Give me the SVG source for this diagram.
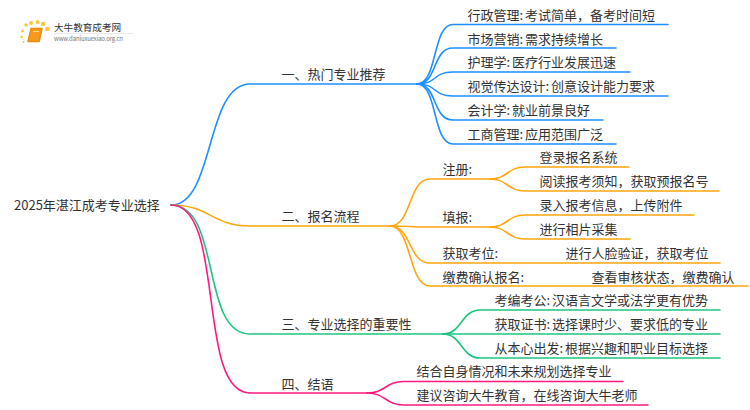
<svg xmlns="http://www.w3.org/2000/svg" width="750" height="410" viewBox="0 0 750 410">
<style>
text{font-family:"Noto Sans CJK SC","Noto Sans",sans-serif;font-size:13px;fill:#333;word-spacing:-1px}
.c{fill:none;stroke-width:1.6;stroke-linecap:round}
.b{stroke:#1e90ff}.o{stroke:#ffa60f}.g{stroke:#1cc67f}.p{stroke:#ff1a80}
.d{fill:#ffc53a}
</style>
<rect width="750" height="410" fill="#fff"/>
<g id="connectors">
<g class="c b">
<path d="M171 205C215 205 205 84 250 84H417"/>
<path d="M417 84C438 84 432 24.5 453 24.5H668"/>
<path d="M417 84C438 84 432 48 453 48H616"/>
<path d="M417 84C438 84 432 72 453 72H630"/>
<path d="M417 84C438 84 432 96 453 96H668"/>
<path d="M417 84C438 84 432 120 453 120H603"/>
<path d="M417 84C438 84 432 144 453 144H616"/>
</g>
<g class="c o">
<path d="M171 205C210 205 212 226 250 226H390"/>
<path d="M390 226C412 226 408 179 430 179H490"/>
<path d="M390 226C412 226 408 227 430 227H490"/>
<path d="M390 226C412 226 408 263 430 263H720"/>
<path d="M390 226C412 226 408 286 430 286H748"/>
<path d="M490 179C508 179 507 167 525 167H629"/>
<path d="M490 179C508 179 507 191 525 191H719"/>
<path d="M490 227C508 227 507 215 525 215H694"/>
<path d="M490 227C508 227 507 239 525 239H630"/>
</g>
<g class="c g">
<path d="M171 205C222 205 200 334 250 334H443"/>
<path d="M443 334C462 334 461 310 480 310H720"/>
<path d="M443 334H720"/>
<path d="M443 334C462 334 461 358 480 358H720"/>
</g>
<g class="c p">
<path d="M171 205C226 205 196 393 250 393H367"/>
<path d="M367 393C386 393 385 381.500 404 381.500H623"/>
<path d="M367 393C386 393 385 405 404 405H648"/>
</g>
</g>
<g id="logo">
<circle class="d" cx="26" cy="25" r="1.800"/><circle class="d" cx="31" cy="23" r="2"/><circle class="d" cx="37.500" cy="22" r="2"/><circle class="d" cx="43" cy="24" r="2.200"/><circle class="d" cx="47.500" cy="29" r="2.300"/><circle class="d" cx="22.500" cy="31" r="1.500"/><circle class="d" cx="21.500" cy="37" r="1.300"/><circle class="d" cx="23.500" cy="42" r="1"/>
<path d="M31 28.500H42L39 41.500H28Z" fill="#f59a1b" stroke="#ec8a12" stroke-width="1.500" stroke-linejoin="round"/><path d="M33 31.500H39" stroke="#ffd98a" stroke-width="1"/>
<path d="M54 33.500H133" stroke="#e4e4e4" stroke-width="0.800"/>
<text x="54" y="30.500" style="font-size:9.600px" fill="#444">大牛教育成考网</text>
<text x="54" y="41" style="font-size:6px;fill:#777" textLength="69">www.daniuxuexiao.org.cn</text>
</g>
<g id="root"><text x="14" y="210">2025年湛江成考专业选择</text></g>
<g id="n1"><text x="281.500" y="78.500">一、热门专业推荐</text></g>
<g id="n1-1"><text x="467.500" y="19.500">行政管理: 考试简单，备考时间短</text></g>
<g id="n1-2"><text x="467.500" y="43.500">市场营销: 需求持续增长</text></g>
<g id="n1-3"><text x="467.500" y="66.500">护理学: 医疗行业发展迅速</text></g>
<g id="n1-4"><text x="467.500" y="90.500">视觉传达设计: 创意设计能力要求</text></g>
<g id="n1-5"><text x="467.500" y="114.500">会计学: 就业前景良好</text></g>
<g id="n1-6"><text x="467.500" y="138.500">工商管理: 应用范围广泛</text></g>
<g id="n2"><text x="281.500" y="221">二、报名流程</text></g>
<g id="n2-1"><text x="442.500" y="173.500">注册:</text></g>
<g id="n2-1-1"><text x="539.500" y="162">登录报名系统</text></g>
<g id="n2-1-2"><text x="539.500" y="186">阅读报考须知，获取预报名号</text></g>
<g id="n2-2"><text x="442.500" y="221.500">填报:</text></g>
<g id="n2-2-1"><text x="539.500" y="210">录入报考信息，上传附件</text></g>
<g id="n2-2-2"><text x="539.500" y="234">进行相片采集</text></g>
<g id="n2-3"><text x="442.500" y="257.500">获取考位:</text><text x="565.500" y="257.500">进行人脸验证，获取考位</text></g>
<g id="n2-4"><text x="442.500" y="281.500">缴费确认报名:</text><text x="591.500" y="281.500">查看审核状态，缴费确认</text></g>
<g id="n3"><text x="281.500" y="329">三、专业选择的重要性</text></g>
<g id="n3-1"><text x="494.500" y="305">考编考公: 汉语言文学或法学更有优势</text></g>
<g id="n3-2"><text x="494.500" y="329">获取证书: 选择课时少、要求低的专业</text></g>
<g id="n3-3"><text x="494.500" y="353">从本心出发: 根据兴趣和职业目标选择</text></g>
<g id="n4"><text x="281.500" y="388.500">四、结语</text></g>
<g id="n4-1"><text x="416.500" y="376">结合自身情况和未来规划选择专业</text></g>
<g id="n4-2"><text x="416.500" y="400">建议咨询大牛教育，在线咨询大牛老师</text></g>
</svg>
